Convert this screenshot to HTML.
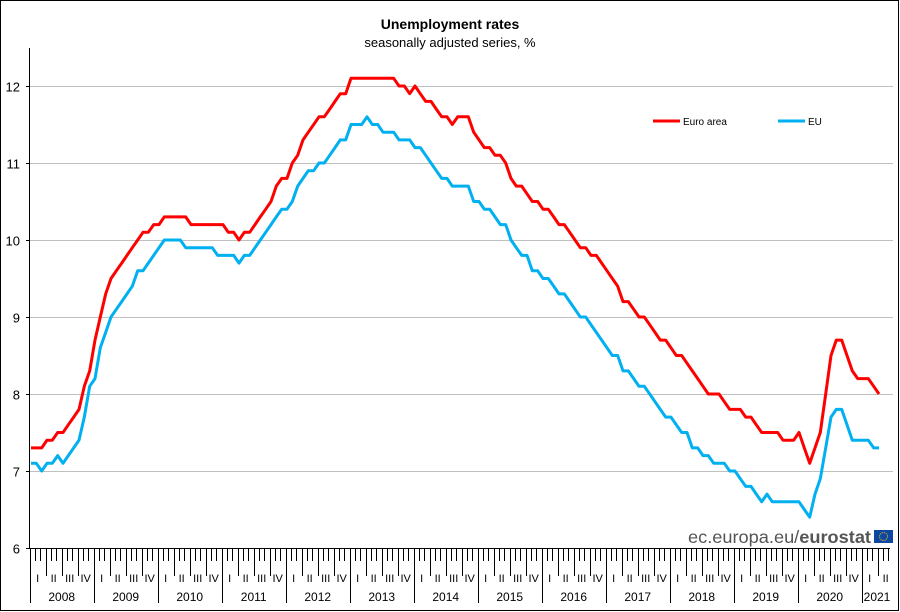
<!DOCTYPE html>
<html><head><meta charset="utf-8"><style>
html,body{margin:0;padding:0;background:#fff}
svg{display:block}
text{font-family:"Liberation Sans",Arial,sans-serif}
</style></head><body>
<svg id="s" width="900" height="612" viewBox="0 0 900 612" xmlns="http://www.w3.org/2000/svg">
<rect x="0.5" y="0.5" width="898" height="610" fill="#fff" stroke="#000" stroke-width="1"/>
<text x="450" y="29" text-anchor="middle" font-size="14" font-weight="bold">Unemployment rates</text>
<text x="450" y="47" text-anchor="middle" font-size="13">seasonally adjusted series, %</text>
<g id="grid"></g>
<line x1="29.5" y1="48" x2="29.5" y2="548" stroke="#000"/>
<line x1="26" y1="548.5" x2="890" y2="548.5" stroke="#000"/>
<g id="ticks"></g>
<text x="871" y="543" text-anchor="end" font-size="17.5" fill="#555" textLength="183" lengthAdjust="spacingAndGlyphs">ec.europa.eu/<tspan font-weight="bold">eurostat</tspan></text>
<rect x="874" y="530" width="19" height="13" fill="#0e47a1"/>
<circle cx="883.5" cy="536.5" r="4" fill="none" stroke="#fc0" stroke-width="1" stroke-dasharray="1 1.1"/>
<line x1="653" y1="121" x2="680" y2="121" stroke="#f00" stroke-width="3"/>
<text x="683" y="125" font-size="10">Euro area</text>
<line x1="778" y1="121" x2="805" y2="121" stroke="#00b0f0" stroke-width="3"/>
<text x="808" y="125" font-size="10">EU</text>
<polyline id="eu" fill="none" stroke="#00b0f0" stroke-width="3" stroke-linejoin="round"/>
<polyline id="ea" fill="none" stroke="#f00" stroke-width="3" stroke-linejoin="round"/>
</svg>
<script>
var NS="http://www.w3.org/2000/svg";
function el(p,t,a,txt){var e=document.createElementNS(NS,t);for(var k in a)e.setAttribute(k,a[k]);if(txt)e.textContent=txt;document.getElementById(p).appendChild(e);}
function Y(v){return 548-(v-6)*77;}
for(var v=6;v<=12;v++){var y=Y(v)+0.5;if(v>6)el("grid","line",{x1:30,y1:y,x2:893,y2:y,stroke:"#c0c0c0"});el("grid","line",{x1:26,y1:y,x2:30,y2:y,stroke:"#000"});el("grid","text",{x:20,y:y+5,"text-anchor":"end","font-size":"13"},String(v));}
var x0=29.7,dm=64/12;
for(var k=0;k<=161;k++){var x=Math.round(x0+k*dm)+0.5;var y2=k%12==0?603:(k%3==0?576:561);el("ticks","line",{x1:x,y1:548,x2:x,y2:y2,stroke:"#000"});}
var Q=["I","II","III","IV"];
for(var q=0;q<54;q++){var xc=x0+(q*3+1.5)*dm;if(xc>890)break;el("ticks","text",{x:xc,y:582,"text-anchor":"middle","font-size":"11"},Q[q%4]);}
for(var yr=0;yr<14;yr++){var xc=yr<13?x0+(yr*12+6)*dm:877;el("ticks","text",{x:xc,y:601,"text-anchor":"middle","font-size":"12"},String(2008+yr));}
var ea=[7.3,7.3,7.3,7.4,7.4,7.5,7.5,7.6,7.7,7.8,8.1,8.3,
8.7,9.0,9.3,9.5,9.6,9.7,9.8,9.9,10.0,10.1,10.1,10.2,
10.2,10.3,10.3,10.3,10.3,10.3,10.2,10.2,10.2,10.2,10.2,10.2,
10.2,10.1,10.1,10.0,10.1,10.1,10.2,10.3,10.4,10.5,10.7,10.8,
10.8,11.0,11.1,11.3,11.4,11.5,11.6,11.6,11.7,11.8,11.9,11.9,
12.1,12.1,12.1,12.1,12.1,12.1,12.1,12.1,12.1,12.0,12.0,11.9,
12.0,11.9,11.8,11.8,11.7,11.6,11.6,11.5,11.6,11.6,11.6,11.4,
11.3,11.2,11.2,11.1,11.1,11.0,10.8,10.7,10.7,10.6,10.5,10.5,
10.4,10.4,10.3,10.2,10.2,10.1,10.0,9.9,9.9,9.8,9.8,9.7,
9.6,9.5,9.4,9.2,9.2,9.1,9.0,9.0,8.9,8.8,8.7,8.7,
8.6,8.5,8.5,8.4,8.3,8.2,8.1,8.0,8.0,8.0,7.9,7.8,
7.8,7.8,7.7,7.7,7.6,7.5,7.5,7.5,7.5,7.4,7.4,7.4,
7.5,7.3,7.1,7.3,7.5,8.0,8.5,8.7,8.7,8.5,8.3,8.2,
8.2,8.2,8.1,8.0];
var eu=[7.1,7.1,7.0,7.1,7.1,7.2,7.1,7.2,7.3,7.4,7.7,8.1,
8.2,8.6,8.8,9.0,9.1,9.2,9.3,9.4,9.6,9.6,9.7,9.8,
9.9,10.0,10.0,10.0,10.0,9.9,9.9,9.9,9.9,9.9,9.9,9.8,
9.8,9.8,9.8,9.7,9.8,9.8,9.9,10.0,10.1,10.2,10.3,10.4,
10.4,10.5,10.7,10.8,10.9,10.9,11.0,11.0,11.1,11.2,11.3,11.3,
11.5,11.5,11.5,11.6,11.5,11.5,11.4,11.4,11.4,11.3,11.3,11.3,
11.2,11.2,11.1,11.0,10.9,10.8,10.8,10.7,10.7,10.7,10.7,10.5,
10.5,10.4,10.4,10.3,10.2,10.2,10.0,9.9,9.8,9.8,9.6,9.6,
9.5,9.5,9.4,9.3,9.3,9.2,9.1,9.0,9.0,8.9,8.8,8.7,
8.6,8.5,8.5,8.3,8.3,8.2,8.1,8.1,8.0,7.9,7.8,7.7,
7.7,7.6,7.5,7.5,7.3,7.3,7.2,7.2,7.1,7.1,7.1,7.0,
7.0,6.9,6.8,6.8,6.7,6.6,6.7,6.6,6.6,6.6,6.6,6.6,
6.6,6.5,6.4,6.7,6.9,7.3,7.7,7.8,7.8,7.6,7.4,7.4,
7.4,7.4,7.3,7.3];
function pts(a){return a.map(function(v,i){return (31+i*dm).toFixed(1)+","+Y(v).toFixed(1);}).join(" ");}
document.getElementById("ea").setAttribute("points",pts(ea));
document.getElementById("eu").setAttribute("points",pts(eu));
</script>
</body></html>
